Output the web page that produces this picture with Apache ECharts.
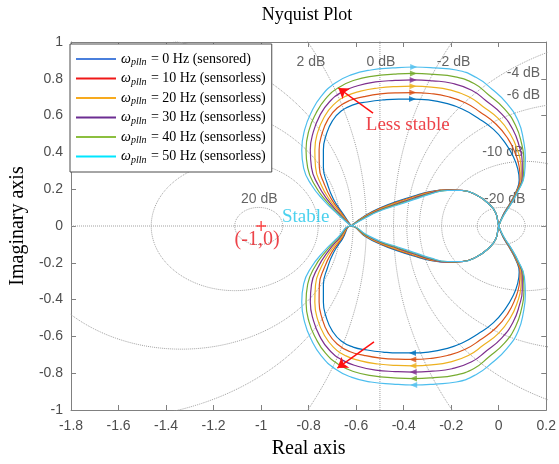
<!DOCTYPE html>
<html>
<head>
<meta charset="utf-8">
<script src="https://cdn.jsdelivr.net/npm/echarts@6/dist/echarts.min.js"></script>
<style>
  html, body { margin: 0; padding: 0; background: #ffffff; }
  #chart { width: 559px; height: 464px; }
</style>
</head>
<body>
<div id="chart"></div>
<script>
// ---- Nyquist data (upper half, positive imaginary part) ----
// Outer loop of each locus: from the real-axis crossing, over the top, down to the origin.
const loop0Hz = [[-0.621,0],[-0.658,0.071],[-0.696,0.147],[-0.721,0.228],[-0.738,0.321],[-0.738,0.413],[-0.725,0.500],[-0.700,0.571],[-0.663,0.625],[-0.613,0.658],[-0.554,0.674],[-0.488,0.685],[-0.421,0.690],[-0.363,0.690],[-0.296,0.685],[-0.225,0.668],[-0.154,0.636],[-0.088,0.587],[-0.022,0.525],[0.027,0.452],[0.062,0.375],[0.080,0.310],[0.086,0.250],[0.072,0.185],[0.045,0.118],[0.018,0.060],[0,0]];
const loop10Hz = [[-0.621,0],[-0.662,0.070],[-0.704,0.146],[-0.734,0.227],[-0.755,0.320],[-0.756,0.413],[-0.743,0.504],[-0.718,0.581],[-0.680,0.641],[-0.628,0.682],[-0.567,0.703],[-0.498,0.718],[-0.426,0.724],[-0.362,0.725],[-0.290,0.720],[-0.216,0.704],[-0.141,0.670],[-0.079,0.620],[-0.011,0.553],[0.038,0.476],[0.070,0.393],[0.086,0.322],[0.090,0.255],[0.074,0.186],[0.046,0.118],[0.019,0.060],[0,0]];
const loop20Hz = [[-0.621,0],[-0.666,0.069],[-0.713,0.145],[-0.748,0.226],[-0.771,0.319],[-0.774,0.413],[-0.762,0.509],[-0.735,0.591],[-0.696,0.658],[-0.643,0.706],[-0.581,0.733],[-0.508,0.750],[-0.431,0.758],[-0.361,0.760],[-0.284,0.755],[-0.207,0.740],[-0.128,0.704],[-0.067,0.650],[0.001,0.581],[0.049,0.499],[0.079,0.412],[0.093,0.334],[0.095,0.261],[0.076,0.187],[0.048,0.119],[0.020,0.060],[0,0]];
const loop30Hz = [[-0.621,0],[-0.671,0.067],[-0.721,0.143],[-0.761,0.225],[-0.788,0.317],[-0.793,0.413],[-0.780,0.513],[-0.753,0.600],[-0.713,0.674],[-0.658,0.729],[-0.594,0.762],[-0.518,0.783],[-0.436,0.791],[-0.360,0.794],[-0.279,0.789],[-0.197,0.776],[-0.114,0.738],[-0.055,0.682],[0.012,0.609],[0.060,0.523],[0.087,0.430],[0.099,0.346],[0.099,0.266],[0.078,0.188],[0.049,0.119],[0.020,0.060],[0,0]];
const loop40Hz = [[-0.621,0],[-0.675,0.066],[-0.730,0.142],[-0.775,0.224],[-0.804,0.316],[-0.811,0.413],[-0.799,0.518],[-0.770,0.610],[-0.729,0.691],[-0.673,0.753],[-0.608,0.792],[-0.528,0.815],[-0.441,0.825],[-0.359,0.829],[-0.273,0.824],[-0.188,0.812],[-0.104,0.774],[-0.042,0.712],[0.024,0.637],[0.071,0.546],[0.096,0.449],[0.106,0.358],[0.104,0.272],[0.080,0.189],[0.051,0.120],[0.021,0.060],[0,0]];
const loop50Hz = [[-0.621,0],[-0.679,0.065],[-0.738,0.141],[-0.788,0.223],[-0.821,0.315],[-0.829,0.413],[-0.817,0.522],[-0.788,0.620],[-0.746,0.707],[-0.688,0.777],[-0.621,0.821],[-0.538,0.848],[-0.446,0.859],[-0.358,0.864],[-0.267,0.859],[-0.179,0.848],[-0.096,0.808],[-0.028,0.743],[0.035,0.665],[0.082,0.570],[0.104,0.467],[0.112,0.370],[0.108,0.277],[0.082,0.190],[0.052,0.120],[0.022,0.060],[0,0]];

// Inner arc of each locus: from the real-axis crossing to the origin.
const inner0Hz  = [[-0.621,0],[-0.560,0.058],[-0.496,0.100],[-0.425,0.135],[-0.358,0.163],[-0.288,0.187],[-0.217,0.197],[-0.154,0.194],[-0.096,0.170],[-0.046,0.125],[-0.013,0.072],[0,0]];
const inner10Hz = [[-0.621,0],[-0.560,0.056],[-0.496,0.097],[-0.425,0.131],[-0.358,0.159],[-0.288,0.185],[-0.217,0.196],[-0.154,0.194],[-0.096,0.170],[-0.046,0.125],[-0.013,0.072],[0,0]];
const inner20Hz = [[-0.621,0],[-0.559,0.054],[-0.496,0.094],[-0.425,0.127],[-0.358,0.155],[-0.288,0.182],[-0.217,0.195],[-0.154,0.193],[-0.096,0.170],[-0.046,0.125],[-0.013,0.072],[0,0]];
const inner30Hz = [[-0.621,0],[-0.558,0.052],[-0.496,0.090],[-0.425,0.122],[-0.358,0.151],[-0.288,0.179],[-0.217,0.195],[-0.154,0.193],[-0.096,0.170],[-0.046,0.125],[-0.013,0.072],[0,0]];
const inner40Hz = [[-0.621,0],[-0.557,0.050],[-0.496,0.087],[-0.425,0.118],[-0.358,0.147],[-0.288,0.176],[-0.217,0.194],[-0.154,0.193],[-0.096,0.170],[-0.046,0.125],[-0.013,0.072],[0,0]];
const inner50Hz = [[-0.621,0],[-0.556,0.048],[-0.496,0.084],[-0.425,0.114],[-0.358,0.143],[-0.288,0.173],[-0.217,0.193],[-0.154,0.193],[-0.096,0.170],[-0.046,0.125],[-0.013,0.072],[0,0]];

const pllFrequencies = ['0 Hz (sensored)', '10 Hz (sensorless)', '20 Hz (sensorless)', '30 Hz (sensorless)', '40 Hz (sensorless)', '50 Hz (sensorless)'];
const outerLoops = [loop0Hz, loop10Hz, loop20Hz, loop30Hz, loop40Hz, loop50Hz];
const innerArcs = [inner0Hz, inner10Hz, inner20Hz, inner30Hz, inner40Hz, inner50Hz];

// Closed-loop magnitude contours (M-circles), in dB
const mCircleDb = [-20, -10, -6, -4, -2, 0, 2, 4, 6, 10, 20];
const mCircleLabels = ['20 dB', '2 dB', '0 dB', '-2 dB', '-4 dB', '-6 dB', '-10 dB', '-20 dB'];

// Axis ticks
const xTicks = { min: -1.8, max: 0.2, step: 0.2 };
const yTicks = { min: -1, max: 1, step: 0.2 };

// ---- styling ----
const lineColors = ['#0072BD', '#D95319', '#EDB120', '#7E2F8E', '#77AC30', '#4DBEEE'];
const legendColors = ['#4a7fdc', '#f01818', '#f7aa1e', '#6c2d92', '#8cbf3f', '#00e6ff'];
const labelAnchors = [[-1.008, 0.147], [-0.79, 0.89], [-0.496, 0.89], [-0.19, 0.89], [0.104, 0.83], [0.104, 0.71], [0.017, 0.40], [0.025, 0.147]];
const serif = '"Liberation Serif", "Times New Roman", serif';
const sans = '"Liberation Sans", Arial, sans-serif';
const axisGray = '#808080';
const gridGray = '#a0a0a0';

// Negative frequencies give the complex conjugate of the positive branch.
const conj = p => [p[0], -p[1]];
function fullLocus(loop, inner) {
  const lowerInner = inner.map(conj).reverse();
  const lowerLoop = loop.map(conj);
  const upperInnerBack = inner.slice().reverse();
  return loop.concat(lowerInner.slice(1), lowerLoop.slice(1), upperInnerBack.slice(1));
}

// M-circle for a closed-loop gain level
function mCircle(db) {
  if (db === 0) return [[-0.5, -1.5], [-0.5, 1.5]];
  const M = Math.pow(10, db / 20);
  const M2 = M * M;
  const cx = -M2 / (M2 - 1);
  const r = Math.abs(M / (M2 - 1));
  const pts = [];
  for (let k = 0; k <= 720; k++) {
    const t = (k / 720) * 2 * Math.PI;
    pts.push([cx + r * Math.cos(t), r * Math.sin(t)]);
  }
  return pts;
}

const seriesNames = pllFrequencies.map(f => '\u03c9_plln = ' + f);
const series = [];

// dotted grid contours
mCircleDb.forEach(db => {
  series.push({
    type: 'line', name: 'M ' + db, data: mCircle(db), showSymbol: false, silent: true,
    lineStyle: { color: gridGray, width: 1, type: 'dotted' }, z: 1, clip: true
  });
});
series.push({
  type: 'line', name: 'real axis', data: [[xTicks.min, 0], [xTicks.max, 0]], showSymbol: false, silent: true,
  lineStyle: { color: gridGray, width: 1, type: 'dotted' }, z: 1
});

// contour labels
series.push({
  type: 'scatter', name: 'contour labels', silent: true, symbolSize: 1, z: 3,
  itemStyle: { color: 'rgba(0,0,0,0)' },
  data: mCircleLabels.map((t, i) => ({
    value: labelAnchors[i],
    label: { show: true, position: 'inside', formatter: t, fontFamily: sans, fontSize: 14, color: '#3c3c3c' }
  }))
});

// Nyquist loci
outerLoops.forEach((loop, i) => {
  series.push({
    type: 'line', name: seriesNames[i], data: fullLocus(loop, innerArcs[i]),
    showSymbol: false, smooth: 0.5, silent: true, z: 5 + i,
    color: lineColors[i], lineStyle: { color: lineColors[i], width: 1.2 }
  });
  // direction arrows at the top and bottom of each loop
  series.push({
    type: 'scatter', name: 'dir ' + i, silent: true, z: 12,
    symbol: 'triangle', symbolSize: [6, 7],
    itemStyle: { color: lineColors[i] },
    data: [
      { value: loop[13], symbolRotate: -90 },
      { value: conj(loop[13]), symbolRotate: 90 }
    ]
  });
});

// critical point (-1, 0)
series.push({
  type: 'scatter', name: 'critical point', silent: true, z: 14,
  symbol: 'path://M4.3,0H5.7V4.3H10V5.7H5.7V10H4.3V5.7H0V4.3H4.3Z', symbolSize: 10,
  itemStyle: { color: '#ff1a1a' },
  data: [[-1, 0]]
});

// annotations
series.push({
  type: 'scatter', name: 'annotations', silent: true, symbolSize: 1, z: 15,
  itemStyle: { color: 'rgba(0,0,0,0)' },
  data: [
    { value: [-1.017, -0.076], label: { show: true, position: 'inside', formatter: '(-1,0)', fontFamily: serif, fontSize: 20, color: '#e8141b' } },
    { value: [-0.8125, 0.049], label: { show: true, position: 'inside', formatter: 'Stable', fontFamily: serif, fontSize: 19, color: '#1ec6ea' } },
    { value: [-0.383, 0.549], label: { show: true, position: 'inside', formatter: 'Less stable', fontFamily: serif, fontSize: 19, color: '#e8141b' } }
  ]
});
series.push({
  type: 'lines', name: 'trend arrows', coordinateSystem: 'cartesian2d', silent: true, z: 16,
  symbol: ['none', 'arrow'], symbolSize: 10,
  lineStyle: { color: '#ff1010', width: 1.5, opacity: 1 },
  data: [
    { coords: [[-0.529, 0.614], [-0.675, 0.750]] },
    { coords: [[-0.525, -0.630], [-0.679, -0.772]] }
  ]
});

const legendRich = {
  w: { fontFamily: serif, fontStyle: 'italic', fontSize: 14, color: '#000' },
  s: { fontFamily: serif, fontStyle: 'italic', fontSize: 10, color: '#000', padding: [7, 1, 0, 0] },
  t: { fontFamily: serif, fontSize: 14, color: '#000' }
};

const axisCommon = {
  type: 'value', splitLine: { show: false },
  axisLine: { show: true, onZero: false, lineStyle: { color: axisGray, width: 1 } },
  axisTick: { show: true, inside: true, length: 5, lineStyle: { color: axisGray } }
};

const option = {
  animation: false,
  grid: { left: 67, right: 12, top: 42, bottom: 54 },
  graphic: [{
    type: 'text', x: 307, y: 15,
    style: { text: 'Nyquist Plot', fontFamily: serif, fontSize: 18, fill: '#000', align: 'center', verticalAlign: 'middle' }
  }],
  legend: {
    orient: 'vertical', left: 70, top: 44,
    padding: [8, 6, 7, 6], itemGap: 4, itemWidth: 40, itemHeight: 2,
    borderColor: '#4d4d4d', borderWidth: 1, backgroundColor: '#ffffff',
    selectedMode: false,
    data: seriesNames.map((n, i) => ({ name: n, icon: 'rect', itemStyle: { color: legendColors[i] } })),
    formatter: name => {
      const i = seriesNames.indexOf(name);
      return '{w|\u03c9}{s|plln}{t| = ' + pllFrequencies[i] + '}';
    },
    textStyle: { rich: legendRich, fontFamily: serif, fontSize: 14 }
  },
  xAxis: [
    Object.assign({}, axisCommon, {
      min: xTicks.min, max: xTicks.max, interval: xTicks.step, position: 'bottom',
      axisLabel: { fontFamily: sans, fontSize: 14, color: '#4d4d4d', margin: 9 },
      name: 'Real axis', nameLocation: 'middle', nameGap: 29,
      nameTextStyle: { fontFamily: serif, fontSize: 20, color: '#000' }
    }),
    Object.assign({}, axisCommon, {
      min: xTicks.min, max: xTicks.max, interval: xTicks.step, position: 'top', axisLabel: { show: false }
    })
  ],
  yAxis: [
    Object.assign({}, axisCommon, {
      min: yTicks.min, max: yTicks.max, interval: yTicks.step, position: 'left',
      axisLabel: { fontFamily: sans, fontSize: 14, color: '#4d4d4d', margin: 8 },
      name: 'Imaginary axis', nameLocation: 'middle', nameGap: 35,
      nameTextStyle: { fontFamily: serif, fontSize: 20, color: '#000' }
    }),
    Object.assign({}, axisCommon, {
      min: yTicks.min, max: yTicks.max, interval: yTicks.step, position: 'right', axisLabel: { show: false }
    })
  ],
  series: series
};

const chart = echarts.init(document.getElementById('chart'), null, { renderer: 'canvas' });
chart.setOption(option);
</script>
</body>
</html>
